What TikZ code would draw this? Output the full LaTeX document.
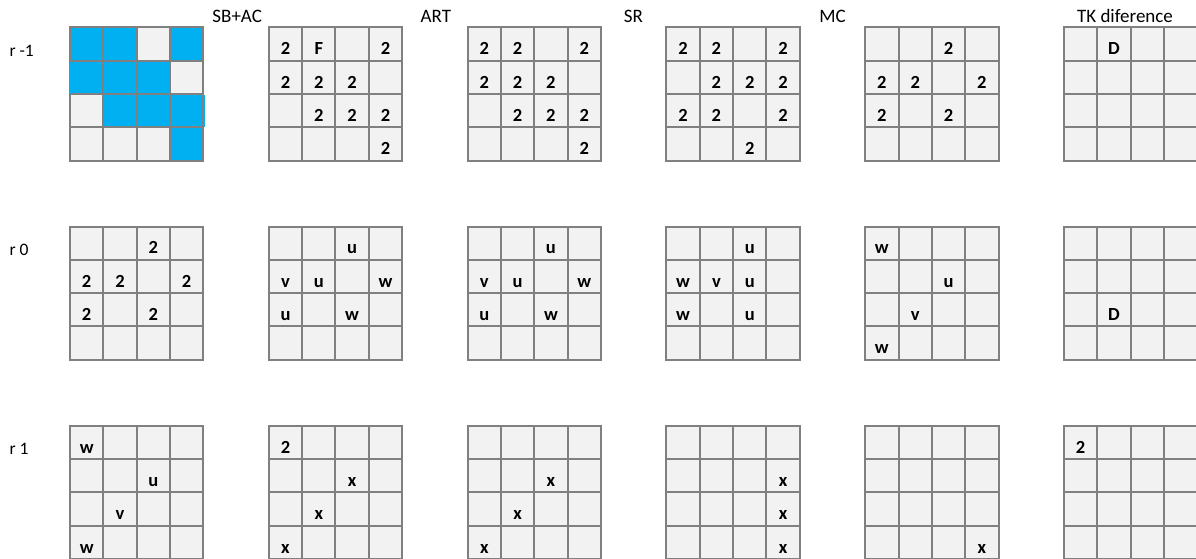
\documentclass[tikz,border=0pt]{standalone}
\usepackage{fontspec}
\setmainfont{Carlito}
\definecolor{cellfill}{HTML}{F2F2F2}
\definecolor{cellline}{HTML}{808080}
\definecolor{cellblue}{HTML}{00B0F0}
\tikzset{
  cell/.style={draw=cellline, fill=cellfill, line width=2pt, minimum size=33.33pt, inner sep=0pt, outer sep=0pt},
  bluecell/.style={cell, fill=cellblue},
  celltext/.style={anchor=base, inner sep=0pt, font=\fontsize{18.5}{20}\selectfont\bfseries},
  rowlabel/.style={anchor=base west, inner sep=0pt, font=\fontsize{17.5}{20}\selectfont},
  coltitle/.style={anchor=base, inner sep=0pt, font=\fontsize{19}{22}\selectfont},
}
\newcommand\mkgrid[3]{%
  \foreach \c in {1,...,4}{\foreach \r in {1,...,4}{%
    \node[cell] (#1-\r-\c) at ({#2+(\c-0.5)*33.33},{-(#3+(\r-0.5)*33.33)}) {};}}}
\newcommand\mktext[2]{%
  \foreach \r/\c/\t in {#2}{\node[celltext] (#1-\r-\c-t) at ([yshift=-10.8pt]#1-\r-\c.center) {\t};}}
\begin{document}
\begin{tikzpicture}[x=1pt,y=1pt]
\useasboundingbox (0,0) rectangle (1196,-559);
\fill[white] (0,0) rectangle (1196,-559);
% titles
\node[coltitle] (tSB) at (237.2,-22.7) {SB+AC};
\node[coltitle] (tART) at (435.8,-22.7) {ART};
\node[coltitle] (tSR) at (633.3,-22.7) {SR};
\node[coltitle] (tMC) at (832.5,-22.7) {MC};
\node[coltitle] (tTK) at (1125,-22.7) {TK diference};
% row labels
\node[rowlabel] (lA) at (9.3,-56.5) {r -1};
\node[rowlabel] (lB) at (9.3,-255.7) {r 0};
\node[rowlabel] (lC) at (9.3,-454.9) {r 1};
% ---- row r -1
\mkgrid{a1}{70}{27.3}
\foreach \r/\c in {1/1,1/2,1/4,2/1,2/2,2/3,3/2,3/3,3/4,4/4}{\node[bluecell] (a1b-\r-\c) at (a1-\r-\c) {};}
\fill[cellblue] (68.6,-61.6) rectangle (70.6,-93.6);
\fill[cellblue] (202.7,-94.9) rectangle (204.8,-126.9);
\mkgrid{a2}{268.8}{27.3}
\mktext{a2}{1/1/2,1/2/F,1/4/2,2/1/2,2/2/2,2/3/2,3/2/2,3/3/2,3/4/2,4/4/2}
\mkgrid{a3}{467.6}{27.3}
\mktext{a3}{1/1/2,1/2/2,1/4/2,2/1/2,2/2/2,2/3/2,3/2/2,3/3/2,3/4/2,4/4/2}
\mkgrid{a4}{666.4}{27.3}
\mktext{a4}{1/1/2,1/2/2,1/4/2,2/2/2,2/3/2,2/4/2,3/1/2,3/2/2,3/4/2,4/3/2}
\mkgrid{a5}{865.2}{27.3}
\mktext{a5}{1/3/2,2/1/2,2/2/2,2/4/2,3/1/2,3/3/2}
\mkgrid{a6}{1064}{27.3}
\mktext{a6}{1/2/D}
% ---- row r 0
\mkgrid{b1}{70}{226.5}
\mktext{b1}{1/3/2,2/1/2,2/2/2,2/4/2,3/1/2,3/3/2}
\mkgrid{b2}{268.8}{226.5}
\mktext{b2}{1/3/u,2/1/v,2/2/u,2/4/w,3/1/u,3/3/w}
\mkgrid{b3}{467.6}{226.5}
\mktext{b3}{1/3/u,2/1/v,2/2/u,2/4/w,3/1/u,3/3/w}
\mkgrid{b4}{666.4}{226.5}
\mktext{b4}{1/3/u,2/1/w,2/2/v,2/3/u,3/1/w,3/3/u}
\mkgrid{b5}{865.2}{226.5}
\mktext{b5}{1/1/w,2/3/u,3/2/v,4/1/w}
\mkgrid{b6}{1064}{226.5}
\mktext{b6}{3/2/D}
% ---- row r 1
\mkgrid{c1}{70}{425.8}
\mktext{c1}{1/1/w,2/3/u,3/2/v,4/1/w}
\mkgrid{c2}{268.8}{425.8}
\mktext{c2}{1/1/2,2/3/x,3/2/x,4/1/x}
\mkgrid{c3}{467.6}{425.8}
\mktext{c3}{2/3/x,3/2/x,4/1/x}
\mkgrid{c4}{666.4}{425.8}
\mktext{c4}{2/4/x,3/4/x,4/4/x}
\mkgrid{c5}{865.2}{425.8}
\mktext{c5}{4/4/x}
\mkgrid{c6}{1064}{425.8}
\mktext{c6}{1/1/2}
\end{tikzpicture}
\end{document}
